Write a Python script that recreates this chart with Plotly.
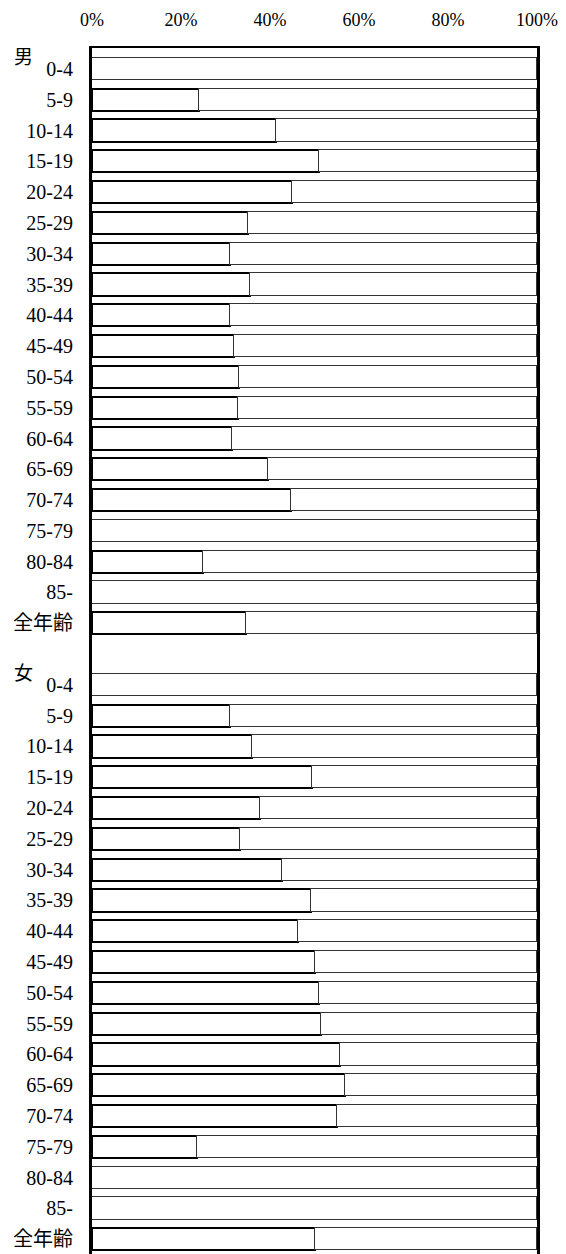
import plotly.graph_objects as go

age_groups = ["0-4", "5-9", "10-14", "15-19", "20-24", "25-29", "30-34", "35-39",
              "40-44", "45-49", "50-54", "55-59", "60-64", "65-69", "70-74",
              "75-79", "80-84", "85-", "全年齢"]

male_pct = [0, 24.1, 41.4, 51.1, 45.0, 35.1, 30.9, 35.4, 30.9, 32.0, 33.1,
            32.7, 31.5, 39.6, 44.8, 0, 25.0, 0, 34.5]
female_pct = [0, 30.9, 36.0, 49.4, 37.8, 33.2, 42.6, 49.1, 46.2, 50.0, 51.1,
              51.4, 55.8, 56.8, 55.0, 23.5, 0, 0, 50.1]

group_labels = ["男", "女"]
x_ticks = [0, 20, 40, 60, 80, 100]

# row positions: male rows, one blank row, female rows
n = len(age_groups)
male_rows = list(range(n))
female_rows = [n + 1 + i for i in range(n)]
rows = male_rows + female_rows
labels = age_groups + age_groups
values = male_pct + female_pct

first = [v if v > 0 else None for v in values]
rest = [100 - v for v in values]

fig = go.Figure()
fig.add_trace(go.Bar(
    y=rows, x=first, orientation="h", width=0.72,
    marker=dict(color="white", line=dict(color="black", width=2.2)),
    showlegend=False, hoverinfo="skip"))
fig.add_trace(go.Bar(
    y=rows, x=rest, orientation="h", width=0.72,
    marker=dict(color="white", line=dict(color="#333333", width=1.3)),
    showlegend=False, hoverinfo="skip"))

for lab, r in zip(group_labels, [male_rows[0], female_rows[0]]):
    fig.add_annotation(x=-0.155, xref="paper", y=r, yref="y", yshift=13,
                       text=lab, showarrow=False, xanchor="center",
                       font=dict(family="'Noto Sans CJK JP'", size=19, color="black"))

serif = "'Liberation Serif', 'DejaVu Serif', 'Noto Sans CJK JP', serif"
fig.update_layout(
    width=558, height=1246,
    margin=dict(l=84, r=29, t=40, b=0),
    barmode="stack", bargap=0,
    paper_bgcolor="white", plot_bgcolor="white",
    font=dict(family=serif, color="black"),
    xaxis=dict(range=[0, 100], tickvals=x_ticks,
               ticktext=[f"{t}%" for t in x_ticks], side="top",
               showgrid=False, zeroline=False, ticks="outside", ticklen=0,
               ticklabelstandoff=13, tickfont=dict(size=18, family=serif),
               automargin=False,
               showline=True, linecolor="black", linewidth=2, mirror=True),
    yaxis=dict(range=[2 * n + 0.48, -0.68], tickvals=rows, ticktext=labels,
               showgrid=False, zeroline=False, ticks="outside", ticklen=0,
               ticklabelstandoff=12, tickfont=dict(size=20, family=serif),
               automargin=False,
               showline=True, linecolor="black", linewidth=3, mirror=True),
)

fig.write_html("out.html")
